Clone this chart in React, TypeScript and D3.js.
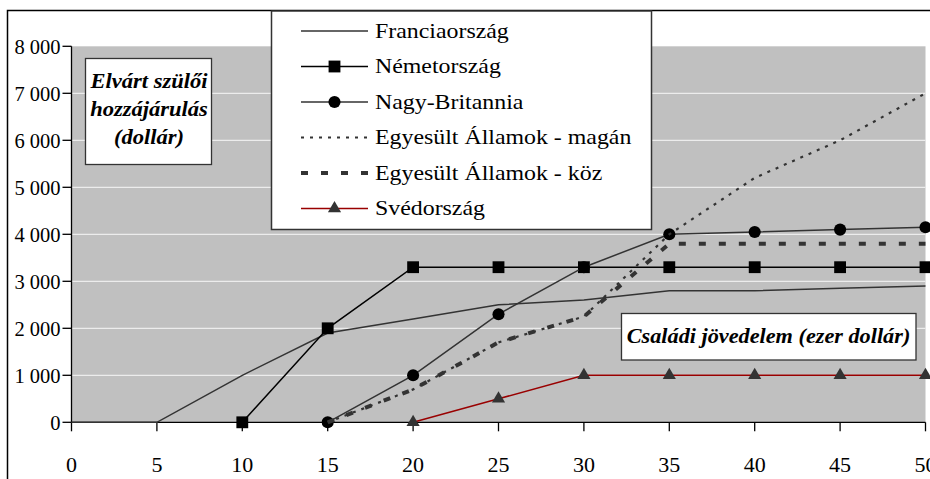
import React from "react";
import * as d3 from "d3";

// income (thousand dollars) on x, expected parental contribution (dollars) on y
const xTicks = [0, 5, 10, 15, 20, 25, 30, 35, 40, 45, 50];
const yTicks = [0, 1000, 2000, 3000, 4000, 5000, 6000, 7000, 8000];

const franceX = [0, 5, 10, 15, 20, 25, 30, 35, 40, 45, 50];
const franceY = [0, 0, 1000, 1900, 2200, 2500, 2600, 2800, 2800, 2850, 2900];

const germanyX = [10, 15, 20, 25, 30, 35, 40, 45, 50];
const germanyY = [0, 2000, 3300, 3300, 3300, 3300, 3300, 3300, 3300];

const britainX = [15, 20, 25, 30, 35, 40, 45, 50];
const britainY = [0, 1000, 2300, 3300, 4000, 4050, 4100, 4150];

const usPrivateX = [15, 20, 25, 30, 35, 40, 45, 50];
const usPrivateY = [0, 700, 1700, 2250, 4000, 5200, 6000, 7000];

const usPublicX = [15, 20, 25, 30, 35, 40, 45, 50];
const usPublicY = [0, 700, 1700, 2250, 3800, 3800, 3800, 3800];

const swedenX = [20, 25, 30, 35, 40, 45, 50];
const swedenY = [0, 500, 1000, 1000, 1000, 1000, 1000];

const legendLabels = [
  "Franciaország",
  "Németország",
  "Nagy-Britannia",
  "Egyesült Államok - magán",
  "Egyesült Államok - köz",
  "Svédország",
];

const zip = (xs: number[], ys: number[]) => xs.map((x, i) => [x, ys[i]] as [number, number]);

// the original text is a bit wider than Liberation Serif, so stretch it sideways
const Wide = ({ x, y, sx, children, ...rest }: any) => (
  <text transform={`translate(${x},${y}) scale(${sx},1)`} {...rest}>
    {children}
  </text>
);

const App = () => {
  const width = 930;
  const height = 479;
  const left = 71.5;
  const right = 925.5;
  const top = 46.3;
  const bottom = 422.3;

  const x = d3.scaleLinear().domain([0, 50]).range([left, right]);
  const y = d3.scaleLinear().domain([0, 8000]).range([bottom, top]);
  const line = d3.line<[number, number]>().x((d) => x(d[0])).y((d) => y(d[1]));

  const font = "'Liberation Serif', 'Times New Roman', serif";

  const square = d3.symbol(d3.symbolSquare, 140)()!;
  const circle = d3.symbol(d3.symbolCircle, 115)()!;
  const triangle = d3.symbol(d3.symbolTriangle, 75)()!;

  const series = [
    { data: zip(franceX, franceY), stroke: "#333", width: 1.5, dash: undefined, marker: null as string | null, mfill: "" },
    { data: zip(germanyX, germanyY), stroke: "#000", width: 1.5, dash: undefined, marker: square, mfill: "#000" },
    { data: zip(britainX, britainY), stroke: "#333", width: 1.5, dash: undefined, marker: circle, mfill: "#000" },
    { data: zip(usPrivateX, usPrivateY), stroke: "#333", width: 2.2, dash: "3,6", marker: null, mfill: "" },
    { data: zip(usPublicX, usPublicY), stroke: "#333", width: 4, dash: "7,13", marker: null, mfill: "" },
    { data: zip(swedenX, swedenY), stroke: "#990000", width: 1.5, dash: undefined, marker: triangle, mfill: "#333" },
  ];

  const legendX = 271.5;
  const legendY = 11;
  const legendStep = 35.5;

  return (
    <svg
      width={width}
      height={height}
      style={{ position: "absolute", left: 0, top: 0, background: "#fff", fontFamily: font }}
    >
      {/* outer chart border */}
      <rect x={7.5} y={10.5} width={1000} height={600} fill="#fff" stroke="#000" strokeWidth={1.5} />

      {/* plot area */}
      <rect x={left} y={top} width={right - left} height={bottom - top} fill="#c0c0c0" />
      {yTicks.slice(1, -1).map((t) => (
        <line key={t} x1={left} x2={right} y1={y(t)} y2={y(t)} stroke="#ececec" strokeWidth={1.3} />
      ))}

      {/* axes */}
      <line x1={left} x2={left} y1={top} y2={bottom} stroke="#000" strokeWidth={1.3} />
      <line x1={left} x2={right} y1={bottom} y2={bottom} stroke="#000" strokeWidth={1.3} />
      {yTicks.map((t) => (
        <g key={t}>
          <line x1={left - 9} x2={left} y1={y(t)} y2={y(t)} stroke="#000" strokeWidth={1.3} />
          <text x={left - 11} y={y(t) + 7.5} fontSize={20.5} textAnchor="end" fill="#000">
            {t === 0 ? "0" : d3.format(",")(t).replace(",", "\u00a0")}
          </text>
        </g>
      ))}
      {xTicks.map((t) => (
        <g key={t}>
          <line x1={x(t)} x2={x(t)} y1={bottom} y2={bottom + 9} stroke="#000" strokeWidth={1.3} />
          <text x={x(t)} y={471.5} fontSize={22} textAnchor="middle" fill="#000">
            {t}
          </text>
        </g>
      ))}

      {/* series */}
      {series.map((s, i) => (
        <g key={i}>
          <path d={line(s.data)!} fill="none" stroke={s.stroke} strokeWidth={s.width} strokeDasharray={s.dash} />
          {s.marker &&
            s.data.map((d, j) => (
              <path key={j} d={s.marker!} transform={`translate(${x(d[0])},${y(d[1])})`} fill={s.mfill} />
            ))}
        </g>
      ))}

      {/* y title box */}
      <rect x={85.5} y={58.5} width={126} height={106} fill="#fff" stroke="#333" strokeWidth={1.3} />
      <g fontSize={20.5} fontWeight="bold" fontStyle="italic" textAnchor="middle" fill="#000">
        <Wide x={149} y={88} sx={1.1}>Elvárt szülői</Wide>
        <Wide x={149} y={116} sx={1.1}>hozzájárulás</Wide>
        <Wide x={149} y={144} sx={1.1}>(dollár)</Wide>
      </g>

      {/* x title box */}
      <rect x={621.5} y={313.5} width={294.5} height={46.5} fill="#fff" stroke="#333" strokeWidth={1.3} />
      <Wide x={768.5} y={342.5} sx={1.06} fontSize={21} fontWeight="bold" fontStyle="italic" textAnchor="middle" fill="#000">
        Családi jövedelem (ezer dollár)
      </Wide>

      {/* legend */}
      <rect x={legendX} y={legendY} width={380} height={218.5} fill="#fff" stroke="#333" strokeWidth={1.5} />
      {series.map((s, i) => {
        const cy = legendY + 20 + i * legendStep;
        return (
          <g key={i}>
            <line
              x1={301}
              x2={368}
              y1={cy}
              y2={cy}
              stroke={s.stroke}
              strokeWidth={s.width}
              strokeDasharray={s.dash}
            />
            {s.marker && <path d={s.marker} transform={`translate(334.5,${cy})`} fill={s.mfill} />}
            <Wide x={375} y={cy + 6.5} sx={1.085} fontSize={22} fill="#000">
              {legendLabels[i]}
            </Wide>
          </g>
        );
      })}
    </svg>
  );
};

export default App;
